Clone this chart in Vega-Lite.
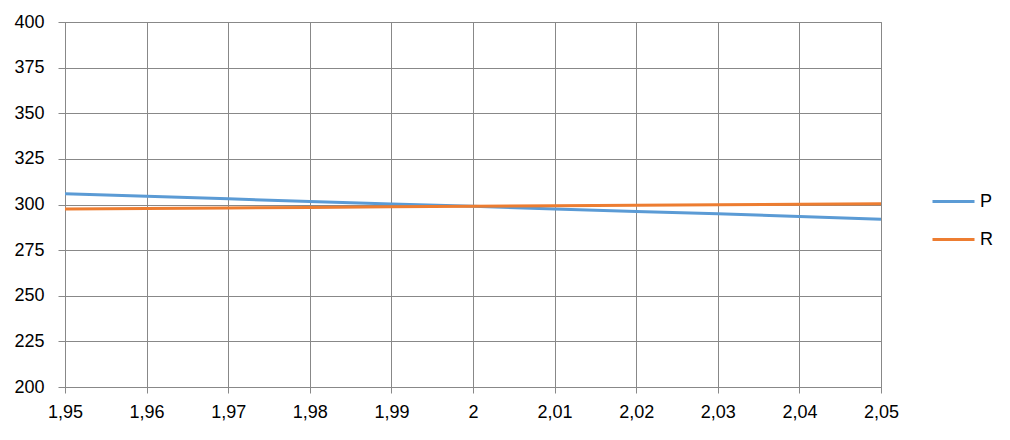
{
  "$schema": "https://vega.github.io/schema/vega-lite/v6.json",
  "width": 816,
  "height": 365,
  "autosize": {"type": "none"},
  "padding": {"left": 65, "top": 22, "right": 129, "bottom": 53},
  "background": "white",
  "data": {
    "values": [
      {"x": 1.95, "series": "P", "y": 305.9},
      {"x": 1.96, "series": "P", "y": 304.5},
      {"x": 1.97, "series": "P", "y": 303.1},
      {"x": 1.98, "series": "P", "y": 301.7},
      {"x": 1.99, "series": "P", "y": 300.3},
      {"x": 2.00, "series": "P", "y": 299.0},
      {"x": 2.01, "series": "P", "y": 297.6},
      {"x": 2.02, "series": "P", "y": 296.2},
      {"x": 2.03, "series": "P", "y": 294.9},
      {"x": 2.04, "series": "P", "y": 293.4},
      {"x": 2.05, "series": "P", "y": 291.9},
      {"x": 1.95, "series": "R", "y": 297.6},
      {"x": 1.96, "series": "R", "y": 297.8},
      {"x": 1.97, "series": "R", "y": 298.1},
      {"x": 1.98, "series": "R", "y": 298.4},
      {"x": 1.99, "series": "R", "y": 298.7},
      {"x": 2.00, "series": "R", "y": 299.0},
      {"x": 2.01, "series": "R", "y": 299.3},
      {"x": 2.02, "series": "R", "y": 299.6},
      {"x": 2.03, "series": "R", "y": 299.9},
      {"x": 2.04, "series": "R", "y": 300.1},
      {"x": 2.05, "series": "R", "y": 300.4}
    ]
  },
  "mark": {"type": "line", "strokeWidth": 3, "clip": true},
  "encoding": {
    "x": {
      "field": "x", "type": "quantitative",
      "scale": {"domain": [1.95, 2.05], "nice": false, "zero": false},
      "axis": {
        "title": null,
        "values": [1.95, 1.96, 1.97, 1.98, 1.99, 2.0, 2.01, 2.02, 2.03, 2.04, 2.05],
        "labelExpr": "replace(format(datum.value, '.2~f'), '.', ',')",
        "labelFlush": false,
        "tickSize": 6,
        "labelPadding": 10
      }
    },
    "y": {
      "field": "y", "type": "quantitative",
      "scale": {"domain": [200, 400], "nice": false, "zero": false},
      "axis": {
        "title": null,
        "values": [200, 225, 250, 275, 300, 325, 350, 375, 400],
        "labelFlush": false,
        "tickSize": 7,
        "labelPadding": 14
      }
    },
    "color": {
      "field": "series", "type": "nominal",
      "scale": {"domain": ["P", "R"], "range": ["#5B9BD5", "#ED7D31"]},
      "legend": {
        "title": null,
        "orient": "none",
        "legendX": 866,
        "legendY": 157,
        "symbolType": "stroke",
        "symbolSize": 1764,
        "symbolStrokeWidth": 3,
        "rowPadding": 6,
        "labelOffset": 4,
        "padding": 0
      }
    }
  },
  "config": {
    "font": "Liberation Sans",
    "view": {"stroke": "#888888", "strokeWidth": 1},
    "axis": {
      "grid": true,
      "gridColor": "#888888",
      "gridOpacity": 1,
      "gridWidth": 1,
      "domainColor": "#888888",
      "tickColor": "#888888",
      "labelColor": "#000000",
      "labelFont": "Liberation Sans",
      "labelFontSize": 18
    },
    "legend": {
      "labelFont": "Liberation Sans",
      "labelFontSize": 18,
      "labelColor": "#000000"
    }
  }
}
